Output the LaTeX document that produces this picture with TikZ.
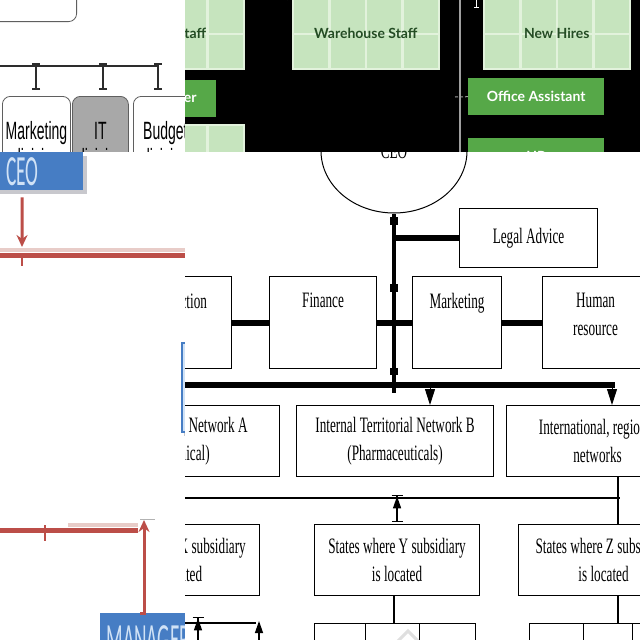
\documentclass[tikz,border=0pt]{standalone}
\usepackage{fontspec}
\setmainfont{Liberation Serif}
\newfontfamily\divfont[FakeStretch=0.56]{Liberation Sans}
\newfontfamily\stafffont{Lato}
\newfontfamily\ceofont[FakeStretch=0.45]{Carlito}
\newfontfamily\netfont[FakeStretch=0.6]{Liberation Serif}
\usetikzlibrary{arrows.meta,positioning,shapes.geometric,calc}
\definecolor{divgray}{RGB}{95,95,95}
\definecolor{divline}{RGB}{45,45,45}
\definecolor{itgray}{RGB}{168,168,168}
\definecolor{gridpale}{RGB}{198,228,190}
\definecolor{gridline}{RGB}{226,242,220}
\definecolor{gridtext}{RGB}{36,76,36}
\definecolor{bargreen}{RGB}{86,168,72}
\definecolor{ceoblue}{RGB}{70,125,196}
\definecolor{ceotext}{RGB}{208,226,246}
\definecolor{shadowgray}{RGB}{200,200,205}
\definecolor{redline}{RGB}{188,78,72}
\definecolor{redpale}{RGB}{232,204,200}

\begin{document}
\begin{tikzpicture}[x=1pt,y=-1pt,
  divbox/.style={draw=divgray,line width=0.8pt,rounded corners=8pt,anchor=north west,
    minimum width=64pt,minimum height=96pt,align=center,
    font=\divfont\fontsize{25}{27}\selectfont},
  ibeam/.style={{Bar[width=8pt]}-{Bar[width=8pt]},line width=1.6pt,draw=divline},
  gridbox/.style={fill=gridpale,draw=gridline,line width=1.5pt,anchor=north west,
    minimum width=146pt,minimum height=70pt,text=gridtext,
    font=\stafffont\bfseries\fontsize{14}{16}\selectfont,
    path picture={
      \foreach \f in {0.25,0.5,0.75}
        \draw[gridline,line width=2.5pt]
          ($(path picture bounding box.north west)!\f!(path picture bounding box.north east)$) --
          ($(path picture bounding box.south west)!\f!(path picture bounding box.south east)$);
      \draw[gridline,line width=2.5pt]
        ($(path picture bounding box.north west)!0.5!(path picture bounding box.south west)$) --
        ($(path picture bounding box.north east)!0.5!(path picture bounding box.south east)$);}},
  greenbar/.style={fill=bargreen,anchor=north west,minimum width=136pt,minimum height=37pt,
    text=white,font=\stafffont\bfseries\fontsize{14}{16}\selectfont},
  ceobox/.style={fill=ceoblue,anchor=north west,text=ceotext,inner sep=0pt,
    font=\ceofont\fontsize{43}{43}\selectfont},
  redarr/.style={draw=redline,line width=3pt,-{Stealth[length=12pt,width=11pt]}},
  orgbox/.style={draw,line width=1.1pt,anchor=north west,align=center,
    font=\netfont\fontsize{22}{28}\selectfont},
  boxlabel/.style={inner sep=0pt,align=center,font=\netfont\fontsize{22}{28}\selectfont},
  thickconn/.style={line width=6pt},
  thinconn/.style={line width=1.3pt},
  downarr/.style={line width=1pt,-{Triangle[width=10pt,length=16pt]}},
  uparr/.style={line width=1.3pt,{Bar[width=11pt]}-{Triangle[width=8pt,length=12pt]Bar[width=11pt]}}]
  \useasboundingbox (0,0) rectangle (640,640);

  % divisions (top left)
  \begin{scope}
    \clip (0,0) rectangle (185,152);
    \fill[white] (0,0) rectangle (185,152);
    \node[draw=divgray,line width=0.8pt,rounded corners=8pt,minimum width=100pt,
          minimum height=60pt,anchor=south east] (topbox) at (77,22) {};
    \coordinate (busL) at (0,66);
    \coordinate (busR) at (158,66);
    \draw[divline,line width=1.6pt] (busL) -- (busR);
    \node[divbox] (mktdiv) at (2,96) {Marketing\\division};
    \node[divbox,fill=itgray,minimum width=56pt] (itdiv) at (72,96) {IT\\division};
    \node[divbox] (buddiv) at (133,96) {Budget\\division};
    \coordinate (tapM) at (36,63);
    \coordinate (tapI) at (103,63);
    \coordinate (tapB) at (158,63);
    \draw[ibeam,shorten >=6pt] (tapM) -- (tapM |- mktdiv.north);
    \draw[ibeam,shorten >=6pt] (tapI) -- (tapI |- itdiv.north);
    \draw[ibeam,shorten >=6pt] (tapB) -- (tapB |- buddiv.north);
  \end{scope}

  % staff chart (top right)
  \begin{scope}
    \clip (185,0) rectangle (640,152);
    \fill[black] (185,0) rectangle (640,152);
    \node[gridbox] (staffbox) at (97,-2) {Office Staff};
    \node[gridbox] (whbox) at (292,-2) {Warehouse Staff};
    \node[gridbox] (hirebox) at (483,-2) {New Hires};
    \node[greenbar] (mgrbar) at (80,80) {Office Manager};
    \node[gridbox] (staffbox2) at (97,124) {};
    \node[greenbar] (asstbar) at (468,78) {Office Assistant};
    \node[greenbar] (hrbar) at (468,138) {HR};
    \coordinate (vtop) at (460,0);
    \coordinate (vbot) at (460,152);
    \draw[gray!75,line width=1.2pt] (vtop) -- (vbot);
    \coordinate (asstTap) at (455,97);
    \draw[gray!75,line width=1pt,dash pattern=on 3pt off 2pt] (asstTap) -- (asstbar.west);
    \coordinate (whTap) at (287,0);
    \coordinate (hireTap) at (476,0);
    \draw[white,line width=1pt] (whTap) |- (whbox.north west);
    \draw[white,line width=1pt,-{Bar[width=5pt]}] (hireTap) -- (hireTap |- 0,8);
  \end{scope}

  % CEO / MANAGER (bottom left)
  \begin{scope}
    \clip (0,152) rectangle (185,640);
    \fill[white] (0,152) rectangle (185,640);
    \fill[shadowgray] (-10,156) rectangle (87,194);
    \node[ceobox,minimum width=122pt,minimum height=38pt] (ceoL) at (-39,152) {CEO};
    \coordinate (redTap) at (22,247);
    \draw[redarr,shorten <=7pt] (ceoL.south) -- (redTap);
    \draw[redpale,line width=4pt] (0,250) -- (185,250);
    \draw[redline,line width=5pt] (0,255.5) -- (185,255.5);
    \draw[redline,line width=2.5pt] (22,256) -- (22,266);
    \fill[shadowgray] (184,345) rectangle (250,436);
    \fill[ceoblue] (181,342) rectangle (250,433);
    \fill[ceotext] (183,344) rectangle (185,431);
    \draw[redpale,line width=4pt] (68,525) -- (138,525);
    \draw[redline,line width=5pt] (0,530) -- (138,530);
    \draw[redline,line width=2.5pt] (45,525) -- (45,541);
    \draw[gray!60,line width=1pt] (140,519) -- (155,519);
    \node[ceobox,minimum width=96pt,minimum height=52pt] (mgr) at (100,613) {MANAGER};
    \coordinate (mgrTap) at (144,520);
    \draw[redarr] ([xshift=-8pt]mgr.north) -| (mgrTap);
  \end{scope}

  % territorial networks (bottom right)
  \begin{scope}
    \clip (185,152) rectangle (640,640);
    \fill[white] (185,152) rectangle (640,640);
    \node[draw,ellipse,line width=1pt,minimum width=146pt,minimum height=124pt,
          font=\netfont\fontsize{22}{28}\selectfont] (ceoR) at (394,151) {CEO};
    \coordinate (spineEnd) at (394,393);
    \draw[line width=4.5pt] (ceoR.south) -- (spineEnd);
    \fill (390,217) rectangle (398,225);
    \fill (390,284) rectangle (398,292);
    \fill (390,368) rectangle (398,375);
    \node[orgbox,minimum width=138pt,minimum height=59pt] (legal) at (459,208) {Legal Advice};
    \draw[thickconn] (legal.west) -- (legal.west -| ceoR.south);
    \node[orgbox,minimum width=107pt,minimum height=92pt] (prod) at (124,276) {};
    \node[orgbox,minimum width=107pt,minimum height=92pt] (fin) at (269,276) {};
    \node[orgbox,minimum width=89pt,minimum height=92pt] (mkt) at (412,276) {};
    \node[orgbox,minimum width=106pt,minimum height=92pt] (hr) at (542,276) {};
    \node[boxlabel,below=17pt of prod.north] (prodlbl) {Production};
    \node[boxlabel,below=17pt of fin.north] (finlbl) {Finance};
    \node[boxlabel,below=17pt of mkt.north] (mktlbl) {Marketing};
    \node[boxlabel,below=17pt of hr.north] (hrlbl) {Human\\resource};
    \draw[thickconn] (prod.east) -- (fin.west);
    \draw[thickconn] (fin.east) -- (mkt.west);
    \draw[thickconn] (mkt.east) -- (hr.west);
    \coordinate (busW) at (150,385);
    \coordinate (busE) at (615,385);
    \draw[thickconn] (busW) -- (busE);
    \node[orgbox,minimum width=224pt,minimum height=71pt] (netA) at (55,405)
      {Internal Territorial Network A\\(Petrochemical)};
    \node[orgbox,minimum width=197pt,minimum height=71pt] (netB) at (296,405)
      {Internal Territorial Network B\\(Pharmaceuticals)};
    \node[orgbox,minimum width=182pt,minimum height=71pt] (intl) at (506,405)
      {International, regional\\networks};
    \coordinate (tapNB) at (430,385);
    \coordinate (tapNI) at (612,385);
    \draw[downarr] (tapNB) -- (tapNB |- netB.north);
    \draw[downarr] (tapNI) -- (tapNI |- intl.north);
    \coordinate (thinW) at (150,498);
    \coordinate (thinE) at (620,498);
    \draw[thinconn] (thinW) -- (thinE);
    \node[orgbox,minimum width=165pt,minimum height=71pt] (xbox) at (94,524)
      {States where X subsidiary\\is located};
    \node[orgbox,minimum width=165pt,minimum height=71pt] (ybox) at (314,524)
      {States where Y subsidiary\\is located};
    \node[orgbox,minimum width=170pt,minimum height=71pt] (zbox) at (518,524)
      {States where Z subsidiary\\is located};
    \coordinate (intlTap) at (618,476);
    \draw[thinconn] (intlTap) -- (intlTap |- zbox.north);
    \draw[uparr,shorten <=2pt] (ybox.north) -- (ybox.north |- 0,495);
    % small boxes under Y and Z
    \node[orgbox,line width=1.3pt,minimum width=51pt,minimum height=40pt] (y1) at (314,623) {};
    \node[orgbox,line width=1.3pt,minimum width=54pt,minimum height=40pt] (y2) at (365,623) {};
    \node[orgbox,line width=1.3pt,minimum width=56pt,minimum height=40pt] (y3) at (419,623) {};
    \node[orgbox,line width=1.3pt,minimum width=54pt,minimum height=40pt] (z1) at (529,623) {};
    \node[orgbox,line width=1.3pt,minimum width=49pt,minimum height=40pt] (z2) at (583,623) {};
    \node[orgbox,line width=1.3pt,minimum width=50pt,minimum height=40pt] (z3) at (632,623) {};
    \coordinate (yTap) at (394,595);
    \coordinate (zTap) at (618,595);
    \draw[thinconn] (yTap) -- (yTap |- y2.north);
    \draw[thinconn] (zTap) -- (zTap |- z2.north);
    \coordinate (xbarW) at (150,623);
    \coordinate (xbarE) at (256,623);
    \draw[thinconn] (xbarW) -- (xbarE);
    \coordinate (xUp1) at (198,660);
    \coordinate (xUp2) at (259,660);
    \draw[line width=1.3pt,-{Triangle[width=8pt,length=12pt]Bar[width=11pt]}] (xUp1) -- (xUp1 |- 0,617);
    \draw[line width=1.3pt,-{Triangle[width=8pt,length=12pt]}] (xUp2) -- (xUp2 |- 0,621);
    \draw[gray!25,line width=3pt] (398,641) -- (408,631) -- (418,641);
  \end{scope}
\end{tikzpicture}
\end{document}
